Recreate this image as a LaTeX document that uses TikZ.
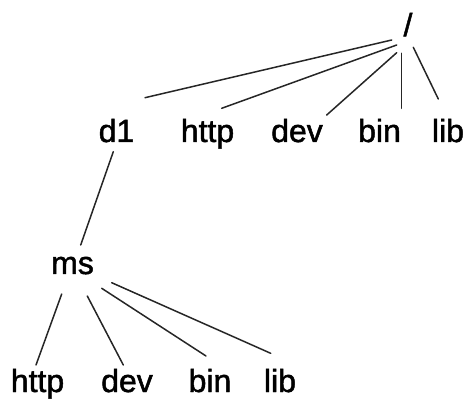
\documentclass[tikz,border=0pt]{standalone}
\usepackage{fontspec}
\setmainfont{Liberation Sans}
\newfontfamily\lblfont{Liberation Sans}[FakeBold=1.5]
\begin{document}
\begin{tikzpicture}[x=1pt,y=1pt,
  lbl/.style={inner sep=0pt,anchor=base,font=\lblfont\fontsize{32}{32}\selectfont},
  edge/.style={line width=1.5pt,draw=black!85,line cap=round}]
\useasboundingbox (0,0) rectangle (468,399);
% nodes
\node[lbl] (root) at (408,363) {/};
\node[lbl] (d1)   at (116.5,257) {d1};
\node[lbl] (http1) at (207.5,257) {http};
\node[lbl] (dev1) at (297,257) {dev};
\node[lbl] (bin1) at (379.5,257) {bin};
\node[lbl] (lib1) at (448,257) {lib};
\node[lbl] (ms)   at (72.5,125) {ms};
\node[lbl] (http2) at (37.5,7) {http};
\node[lbl] (dev2) at (127,7) {dev};
\node[lbl] (bin2) at (210,7) {bin};
\node[lbl] (lib2) at (280,7) {lib};
% edges
\draw[edge] ([shift={(-16.3,-4)}]root.base) -- ([shift={(28.5,44.3)}]d1.base);
\draw[edge] ([shift={(-11.3,-9)}]root.base) -- ([shift={(14.2,33.7)}]http1.base);
\draw[edge] ([shift={(-11.3,-16.7)}]root.base) -- ([shift={(29.7,27)}]dev1.base);
\draw[edge] ([shift={(-6.3,-17.3)}]root.base) -- ([shift={(22.2,33.7)}]bin1.base);
\draw[edge] ([shift={(5.3,-11.3)}]root.base) -- ([shift={(-9.7,43)}]lib1.base);
\draw[edge] ([shift={(-3.2,-9.7)}]d1.base) -- ([shift={(8.2,29)}]ms.base);
\draw[edge] ([shift={(-10.8,-20)}]ms.base) -- ([shift={(-1.5,27)}]http2.base);
\draw[edge] ([shift={(14.8,-22)}]ms.base) -- ([shift={(-3.7,27)}]dev2.base);
\draw[edge] ([shift={(29.2,-14.3)}]ms.base) -- ([shift={(-4,36)}]bin2.base);
\draw[edge] ([shift={(39.2,-8.7)}]ms.base) -- ([shift={(-9.3,38.7)}]lib2.base);
\end{tikzpicture}
\end{document}
